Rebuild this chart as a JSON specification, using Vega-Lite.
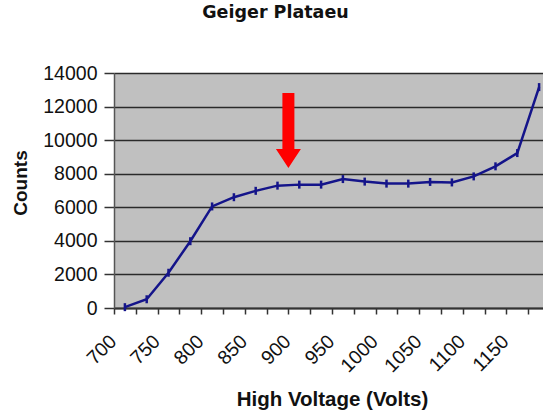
{
  "$schema": "https://vega.github.io/schema/vega-lite/v6.json",
  "autosize": "none",
  "padding": {"left": 114, "top": 73, "right": 0, "bottom": 104},
  "width": 429,
  "height": 235,
  "background": "white",
  "title": {"text": "Geiger Plataeu", "font": "DejaVu Sans", "fontSize": 17.5, "fontWeight": "bold", "color": "#111", "anchor": "middle", "frame": "group", "dx": -53, "offset": 42},
  "config": {
    "view": {"fill": "#c0c0c0", "stroke": null},
    "axis": {"labelFont": "Liberation Sans", "titleFont": "Liberation Sans", "labelColor": "#111", "titleColor": "#111"}
  },
  "datasets": {
    "geiger": [
      {"volts": 700, "counts": 50},
      {"volts": 725, "counts": 520},
      {"volts": 750, "counts": 2100},
      {"volts": 775, "counts": 3980},
      {"volts": 800, "counts": 6050},
      {"volts": 825, "counts": 6600},
      {"volts": 850, "counts": 6980},
      {"volts": 875, "counts": 7290},
      {"volts": 900, "counts": 7350},
      {"volts": 925, "counts": 7350},
      {"volts": 950, "counts": 7680},
      {"volts": 975, "counts": 7530},
      {"volts": 1000, "counts": 7410},
      {"volts": 1025, "counts": 7410},
      {"volts": 1050, "counts": 7510},
      {"volts": 1075, "counts": 7480},
      {"volts": 1100, "counts": 7840},
      {"volts": 1125, "counts": 8440},
      {"volts": 1150, "counts": 9230},
      {"volts": 1175, "counts": 13160}
    ],
    "arrow": [{"volts": 900, "counts": 10574}]
  },
  "encoding": {
    "x": {
      "field": "volts", "type": "ordinal", "sort": null,
      "scale": {"range": [0, 436], "paddingInner": 0, "paddingOuter": 0},
      "axis": {
        "title": "High Voltage (Volts)", "titleFontSize": 20.5, "titleFontWeight": "bold",
        "titleBaseline": "middle", "titleY": 91,
        "labelAngle": -45, "labelAlign": "right", "labelBaseline": "middle", "labelFontSize": 19.5,
        "labelOffset": -12, "labelPadding": 24,
        "labelExpr": "datum.value % 50 == 0 ? datum.label : ''",
        "tickBand": "extent", "tickSize": 6, "tickColor": "#333", "tickWidth": 1.5,
        "domainColor": "#333", "domainWidth": 2, "grid": false
      }
    },
    "y": {
      "field": "counts", "type": "quantitative",
      "scale": {"domain": [0, 14000], "nice": false},
      "axis": {
        "title": "Counts", "titleFontSize": 19, "titleFontWeight": "bold", "titleX": -94, "titleY": 109.5, "titleBaseline": "middle",
        "values": [0, 2000, 4000, 6000, 8000, 10000, 12000, 14000], "format": "d",
        "labelFontSize": 19.5, "labelPadding": 7, "tickSize": 10, "tickColor": "#333", "tickWidth": 1.5,
        "domainColor": "#555", "domainWidth": 1.5,
        "grid": true, "gridColor": "#2a2a2a", "gridWidth": 1.5, "gridOpacity": 1
      }
    }
  },
  "layer": [
    {
      "data": {"name": "geiger"},
      "mark": {"type": "line", "color": "#14148a", "strokeWidth": 2.5}
    },
    {
      "data": {"name": "geiger"},
      "mark": {"type": "point", "shape": "M0,-1L0,1", "size": 64, "filled": false, "stroke": "#14148a", "strokeWidth": 2.5, "opacity": 1}
    },
    {
      "data": {"name": "arrow"},
      "mark": {"type": "point", "shape": "M-0.16,-1L0.16,-1L0.16,0.49L0.333,0.49L0,1L-0.333,0.49L-0.16,0.49Z", "size": 5625, "filled": true, "fill": "#ff0000", "strokeWidth": 0, "opacity": 1},
      "encoding": {
        "x": {"field": "volts", "type": "ordinal", "bandPosition": 0}
      }
    }
  ]
}
